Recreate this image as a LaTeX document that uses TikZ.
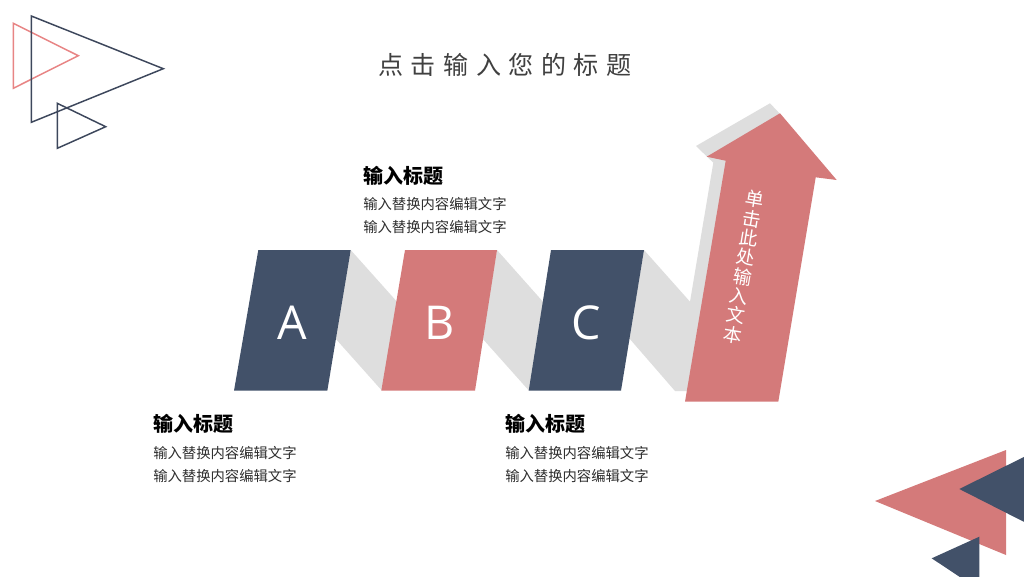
\documentclass[tikz,border=0pt]{standalone}
\usepackage{fontspec}
\newfontfamily\cjk{Noto Sans CJK SC}
\newfontfamily\cjktitle[LetterSpace=30]{Noto Sans CJK SC}
\newfontfamily\latinsans{Open Sans}
\definecolor{navy}{HTML}{425169}
\definecolor{rose}{HTML}{D47A7A}
\definecolor{shade}{HTML}{DEDEDE}
\definecolor{roseline}{HTML}{E88585}
\definecolor{navyline}{HTML}{3D475C}
\definecolor{titlegray}{HTML}{404040}
\begin{document}
\begin{tikzpicture}[x=0.75pt,y=-0.75pt,
  outl/.style={line width=1.1pt,line join=miter},
  band/.style={fill=shade},
  bluecard/.style={fill=navy},
  redcard/.style={fill=rose},
  letter/.style={text=white,font=\latinsans\fontsize{35}{40}\selectfont},
  headtxt/.style={anchor=west,inner sep=0pt,font=\cjk\bfseries\fontsize{15}{18}\selectfont,text=black},
  bodytxt/.style={anchor=west,inner sep=0pt,font=\cjk\fontsize{10.75}{13}\selectfont,text=black!82}]
\clip (0,0) rectangle (1024,576);
\fill[white] (0,0) rectangle (1024,576);
% top-left outline triangles
\draw[outl,roseline] (13.3,23.3) -- (13.3,88.3) -- (78.3,55.7) -- cycle;
\draw[outl,navyline] (31.3,16) -- (31.3,122.3) -- (163.3,68.7) -- cycle;
\draw[outl,navyline] (57.3,103.3) -- (57.3,148.3) -- (105.7,126.7) -- cycle;
% title
\node[font=\cjktitle\fontsize{18.8}{22}\selectfont,text=titlegray] (title) at (505,65) {点击输入您的标题};
% gray bands
\fill[band] (350.7,250) -- (399,304) -- (382,390.7) -- (335,338) -- cycle;
\fill[band] (497,250) -- (545,304) -- (529,390.7) -- (482,338) -- cycle;
\fill[band] (644,250) -- (690,301.7) -- (713.3,162.7) -- (696,146) -- (770,103.3) -- (782,116) -- (760,391) -- (675,391) -- (629,338) -- cycle;
% cards
\fill[bluecard] (258.3,250) -- (350.7,250) -- (327.3,390.7) -- (234,390.7) -- cycle;
\fill[redcard] (405,250) -- (497,250) -- (475,390.7) -- (381.3,390.7) -- cycle;
\fill[bluecard] (551,250) -- (644,250) -- (621,390.7) -- (528.7,390.7) -- cycle;
\node[letter] (A) at (292.7,323) {A};
\node[letter] (B) at (440,323) {B};
\node[letter] (C) at (586,323) {C};
% arrow
\fill[redcard] (685,401.7) -- (778.3,401.7) -- (815.7,177.3) -- (836.7,180) -- (780,113.3) -- (706.7,156.7) -- (725.7,160.7) -- cycle;
\node[rotate=-9.5,text=white,align=center,inner sep=0pt,font=\cjk\fontsize{14}{14.7}\selectfont] (arrowtxt) at (744,267) {单\\击\\此\\处\\输\\入\\文\\本};
% text groups
\node[headtxt] (h1) at (363,176) {输入标题};
\node[bodytxt] (b1a) at (363,204) {输入替换内容编辑文字};
\node[bodytxt] (b1b) at (363,227) {输入替换内容编辑文字};
\node[headtxt] (h2) at (153,424) {输入标题};
\node[bodytxt] (b2a) at (153,453) {输入替换内容编辑文字};
\node[bodytxt] (b2b) at (153,476) {输入替换内容编辑文字};
\node[headtxt] (h3) at (505,424) {输入标题};
\node[bodytxt] (b3a) at (505,453) {输入替换内容编辑文字};
\node[bodytxt] (b3b) at (505,476) {输入替换内容编辑文字};
% bottom-right triangles
\fill[rose] (875,501) -- (1006,450) -- (1006,555) -- cycle;
\fill[navy] (959.3,489) -- (1040,449) -- (1040,530) -- cycle;
\fill[navy] (931.7,558.3) -- (979.3,536.7) -- (979.3,590) -- cycle;
\end{tikzpicture}
\end{document}
